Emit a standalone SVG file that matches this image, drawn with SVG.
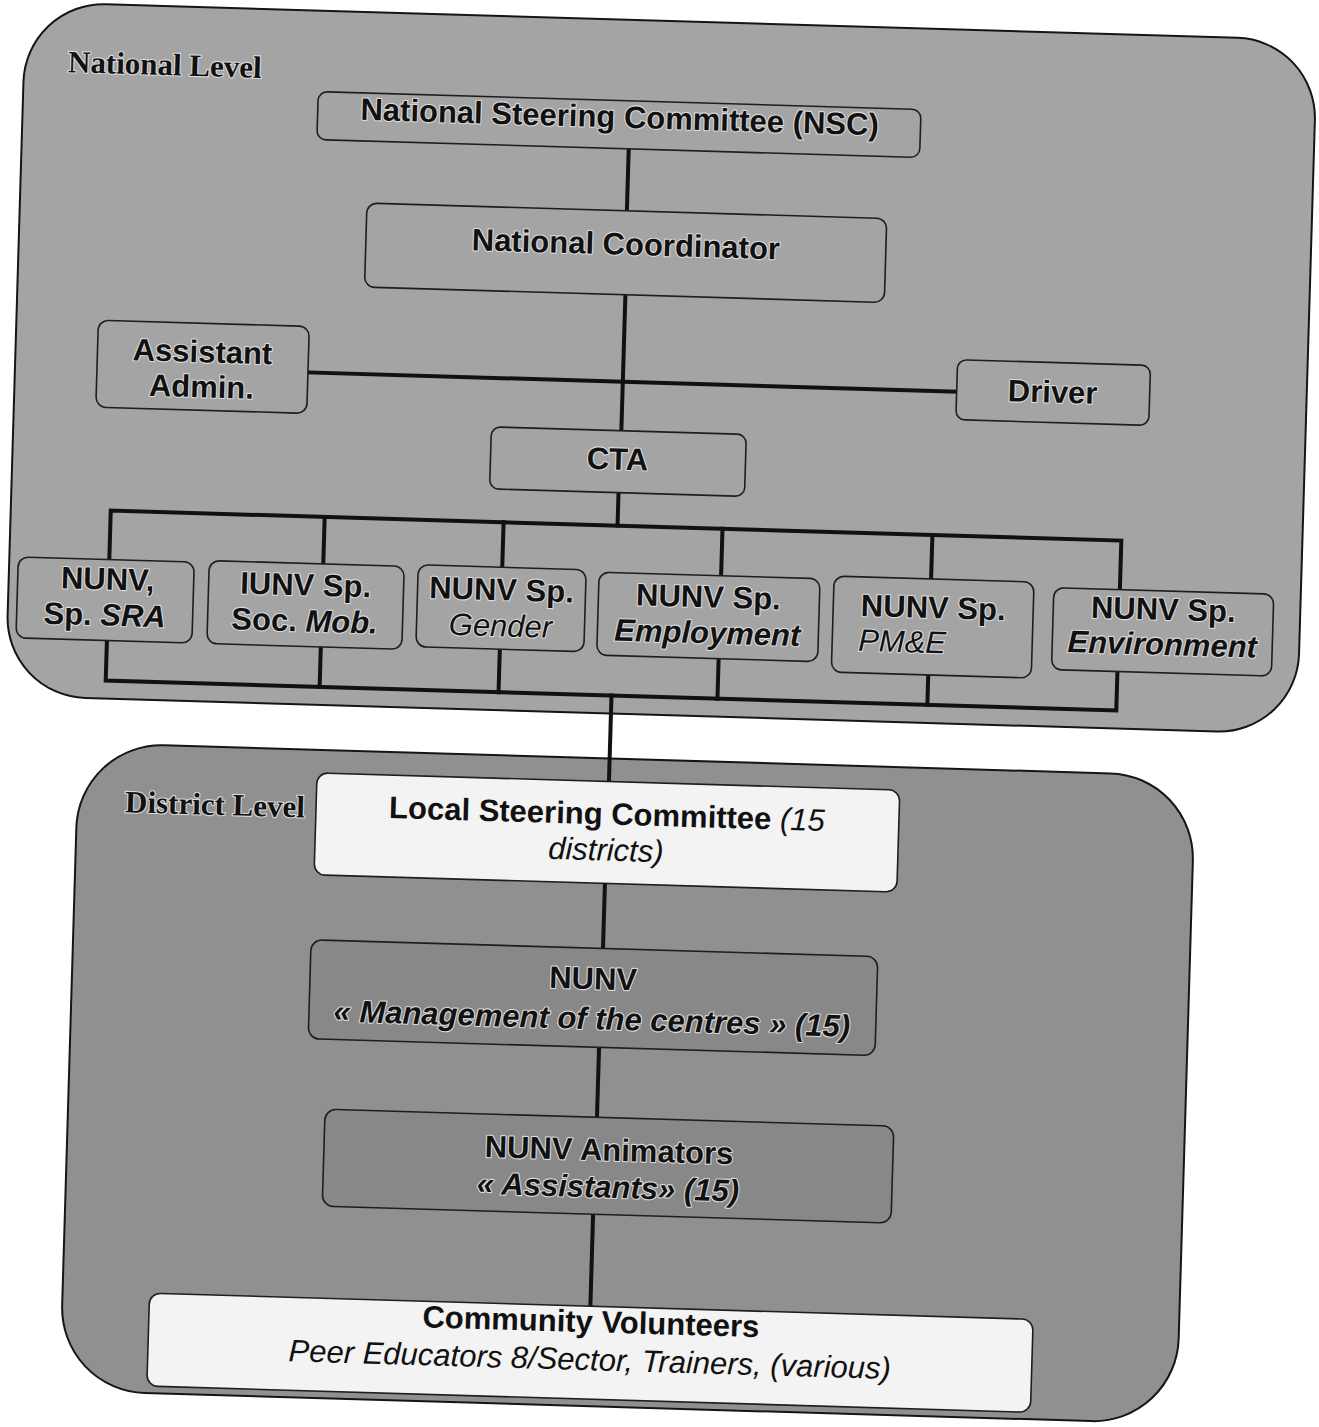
<svg xmlns="http://www.w3.org/2000/svg" width="1319" height="1427" viewBox="0 0 1319 1427">
<style>
.pn{fill:#a4a4a4;stroke:#151515;stroke-width:2}
.pd{fill:#909090;stroke:#151515;stroke-width:2}
.bx{fill:#a4a4a4;stroke:#1e1e1e;stroke-width:1.6}
.bd{fill:#888888;stroke:#1e1e1e;stroke-width:1.6}
.bw{fill:#f3f3f3;stroke:#1e1e1e;stroke-width:1.6}
.c{stroke:#111;stroke-width:4;fill:none;stroke-linecap:square}
.t{font-family:"Liberation Sans",Arial,sans-serif;font-size:31px;font-weight:bold;fill:#111;text-anchor:middle}
.h{stroke:#dadada;stroke-width:2.2;paint-order:stroke;stroke-linejoin:round}
.i{font-style:italic}
.n{font-weight:normal}
.lv{font-family:"Liberation Serif","Times New Roman",serif;font-size:31px;font-weight:bold;fill:#111;stroke:#dadada;stroke-width:2.2;paint-order:stroke}
</style>
<rect width="1319" height="1427" fill="#ffffff"/>
<g transform="rotate(1.7 660 713)">
  <g id="panel-national">
    <rect class="pn" x="5" y="21" width="1292" height="694" rx="80"/>
    <text class="lv" x="49" y="90">National Level</text>
  </g>
  <g id="panel-district">
    <rect class="pd" x="80" y="760" width="1117" height="648" rx="85"/>
    <text class="lv" x="128" y="828">District Level</text>
  </g>
  <g id="connectors">
    <path class="c" d="M612 150 V212"/>
    <path class="c" d="M613 296 V432"/>
    <path class="c" d="M298 383 H947"/>
    <path class="c" d="M612 494 V527"/>
    <path class="c" d="M105 576 V527 H1116 V576"/>
    <path class="c" d="M319 527 V574 M498 527 V572 M717 527 V574 M927 527 V571"/>
    <path class="c" d="M105 657 V697 H1116 V658"/>
    <path class="c" d="M319 657 V697 M498 654 V697 M717 657 V697 M927 667 V697"/>
    <path class="c" d="M611 697 V783"/>
    <path class="c" d="M610 885 V950"/>
    <path class="c" d="M609 1049 V1119"/>
    <path class="c" d="M608 1216 V1308"/>
  </g>
  <g id="nsc">
    <rect class="bx" x="300" y="102" width="603" height="48" rx="9"/>
    <text class="t h" x="602" y="129">National Steering Committee (NSC)</text>
  </g>
  <g id="national-coordinator">
    <rect class="bx" x="352" y="212" width="520" height="84" rx="10"/>
    <text class="t h" x="612" y="256">National Coordinator</text>
  </g>
  <g id="assistant-admin">
    <rect class="bx" x="87" y="337" width="211" height="87" rx="10"/>
    <text class="t h" x="192" y="376">Assistant</text>
    <text class="t h" x="192" y="411">Admin.</text>
  </g>
  <g id="driver">
    <rect class="bx" x="947" y="351" width="193" height="60" rx="9"/>
    <text class="t h" x="1043" y="391">Driver</text>
  </g>
  <g id="cta">
    <rect class="bx" x="483" y="432" width="255" height="62" rx="9"/>
    <text class="t h" x="610" y="471">CTA</text>
  </g>
  <g id="nunv-sra">
    <rect class="bx" x="14" y="576" width="176" height="81" rx="10"/>
    <text class="t h" x="104" y="606">NUNV,</text>
    <text class="t h" x="102" y="642">Sp. <tspan class="i">SRA</tspan></text>
  </g>
  <g id="iunv-socmob">
    <rect class="bx" x="205" y="574" width="195" height="83" rx="10"/>
    <text class="t h" x="302" y="606">IUNV Sp.</text>
    <text class="t h" x="302" y="642">Soc. <tspan class="i">Mob.</tspan></text>
  </g>
  <g id="nunv-gender">
    <rect class="bx" x="414" y="572" width="168" height="82" rx="10"/>
    <text class="t h" x="498" y="605">NUNV Sp.</text>
    <text class="t h i n" x="498" y="641">Gender</text>
  </g>
  <g id="nunv-employment">
    <rect class="bx" x="595" y="574" width="221" height="83" rx="10"/>
    <text class="t h" x="705" y="606">NUNV Sp.</text>
    <text class="t h i" x="705" y="642">Employment</text>
  </g>
  <g id="nunv-pme">
    <rect class="bx" x="830" y="571" width="200" height="96" rx="10"/>
    <text class="t h" x="930" y="610">NUNV Sp.</text>
    <text class="t h i n" x="856" y="645" style="text-anchor:start">PM&amp;E</text>
  </g>
  <g id="nunv-environment">
    <rect class="bx" x="1050" y="576" width="220" height="82" rx="10"/>
    <text class="t h" x="1160" y="605">NUNV Sp.</text>
    <text class="t h i" x="1160" y="640">Environment</text>
  </g>
  <g id="local-steering-committee">
    <rect class="bw" x="319" y="783" width="583" height="102" rx="11"/>
    <text class="t" x="610" y="826">Local Steering Committee<tspan class="i n"> (15</tspan></text>
    <text class="t i n" x="610" y="862">districts)</text>
  </g>
  <g id="nunv-management">
    <rect class="bd" x="318" y="950" width="567" height="99" rx="11"/>
    <text class="t h" x="601" y="991">NUNV</text>
    <text class="t h i" x="601" y="1031">« Management of the centres » (15)</text>
  </g>
  <g id="nunv-animators">
    <rect class="bd" x="337" y="1119" width="569" height="97" rx="11"/>
    <text class="t h" x="622" y="1162">NUNV Animators</text>
    <text class="t h i" x="622" y="1199">« Assistants» (15)</text>
  </g>
  <g id="community-volunteers">
    <rect class="bw" x="167" y="1308" width="884" height="93" rx="11"/>
    <text class="t" x="609" y="1334">Community Volunteers</text>
    <text class="t i n" x="609" y="1372">Peer Educators 8/Sector, Trainers, (various)</text>
  </g>
</g>
</svg>
